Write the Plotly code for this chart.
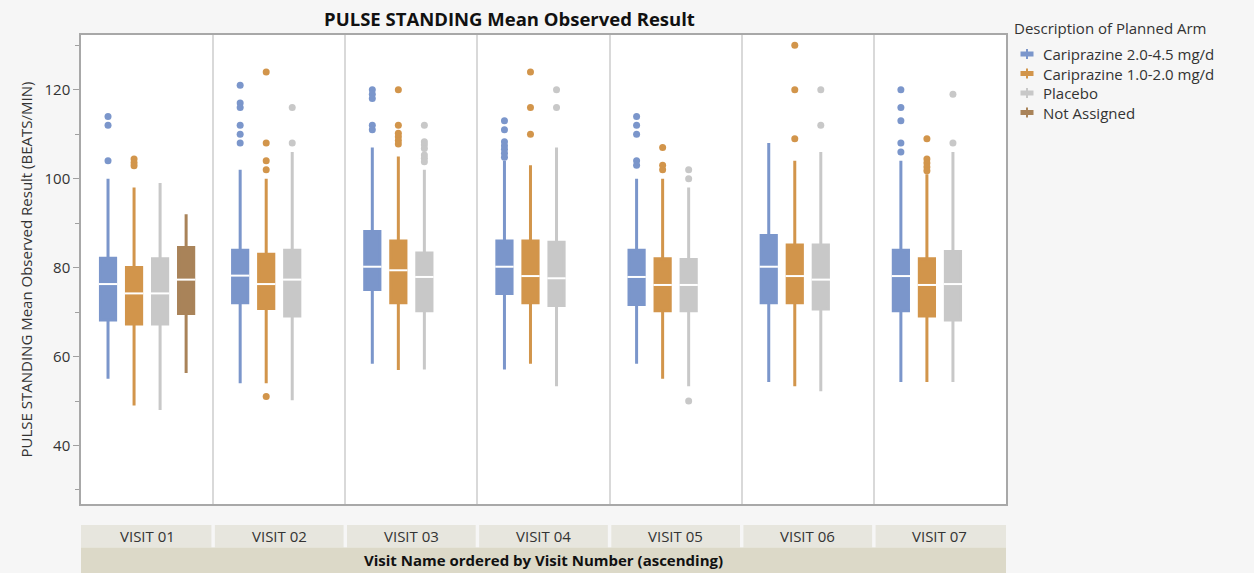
import plotly.graph_objects as go

# ---- data -------------------------------------------------------------
VISITS = ["VISIT 01", "VISIT 02", "VISIT 03", "VISIT 04", "VISIT 05", "VISIT 06", "VISIT 07"]
ARMS = ["Cariprazine 2.0-4.5 mg/d", "Cariprazine 1.0-2.0 mg/d", "Placebo", "Not Assigned"]
ARM_COLORS = ["#7b96cb", "#d2954b", "#c8c8c8", "#a98359"]

# Cariprazine 2.0-4.5 mg/d
hi_lower = [55, 54, 58.4, 57.1, 58.4, 54.3, 54.3]
hi_q1 = [68.2, 72.1, 75.1, 74.2, 71.7, 72.1, 70.3]
hi_median = [76.3, 78.2, 80.2, 80.2, 77.9, 80.2, 78.1]
hi_q3 = [82.1, 83.9, 88.1, 86.0, 83.9, 87.2, 83.9]
hi_upper = [100, 102, 107, 104, 100, 108, 104]
hi_outliers = [
    [114, 112, 104],
    [121, 117, 116, 112, 110, 108],
    [120, 119, 118, 112, 111],
    [113, 111, 108.3, 107.4, 106.6, 105.7, 104.8],
    [114, 112, 110, 104, 103],
    [],
    [120, 116, 113, 108, 106],
]

# Cariprazine 1.0-2.0 mg/d
mid_lower = [49, 54, 57, 58.4, 55, 53.3, 54.3]
mid_q1 = [67.3, 70.8, 72.1, 72.1, 70.3, 72.1, 69.1]
mid_median = [74.2, 76.3, 79.4, 78.1, 76.1, 78.1, 76.1]
mid_q3 = [80, 83, 86, 86, 82, 85.1, 82]
mid_upper = [98, 100, 105, 103, 100, 104, 101]
mid_outliers = [
    [104.4, 103.6, 102.9],
    [124, 108, 104, 102, 51],
    [120, 112, 110.2, 109.4, 108.6, 107.8],
    [124, 116, 110],
    [107, 103, 102],
    [130, 120, 109],
    [109, 104.4, 103.5, 102.6, 101.8],
]

# Placebo
pbo_lower = [48, 50.2, 57.1, 53.3, 53.3, 52.2, 54.3]
pbo_q1 = [67.3, 69.1, 70.3, 71.5, 70.3, 70.7, 68.2]
pbo_median = [74.2, 77.3, 77.9, 77.6, 76.1, 77.3, 76.3]
pbo_q3 = [82, 83.9, 83.3, 85.7, 81.8, 85.1, 83.6]
pbo_upper = [99, 106, 102, 107, 98, 106, 106]
pbo_outliers = [
    [],
    [116, 108],
    [112, 108.3, 107.6, 106.8, 105.3, 104.6, 103.8],
    [120, 116],
    [102, 100, 50],
    [120, 112],
    [119, 108],
]

# Not Assigned (only present at the first visit)
na_visits = ["VISIT 01"]
na_lower = [56.3]
na_q1 = [69.7]
na_median = [77.3]
na_q3 = [84.5]
na_upper = [92]
na_outliers = [[]]

Y_TICKS = [40, 60, 80, 100, 120]
Y_RANGE = [26.85, 132.3]

# ---- layout geometry ---------------------------------------------------
W, H = 1254, 573
ML, MR, MT, MB = 81, 248, 35, 69
PLOT_W = W - ML - MR
PLOT_H = H - MT - MB
SLOT = 0.197          # spacing between arm slots inside a visit
BOX_W = 0.115         # box width in x units
FONT = "Open Sans"
TXT = "#333333"


def py2paper(py):
    return (H - MB - py) / PLOT_H


def px2paper(px):
    return (px - ML) / PLOT_W


arm_data = [
    (VISITS, hi_lower, hi_q1, hi_median, hi_q3, hi_upper, hi_outliers),
    (VISITS, mid_lower, mid_q1, mid_median, mid_q3, mid_upper, mid_outliers),
    (VISITS, pbo_lower, pbo_q1, pbo_median, pbo_q3, pbo_upper, pbo_outliers),
    (na_visits, na_lower, na_q1, na_median, na_q3, na_upper, na_outliers),
]

fig = go.Figure()

for k, (name, color, d) in enumerate(zip(ARMS, ARM_COLORS, arm_data)):
    vis, lo, q1, med, q3, up, outl = d
    offset = (k - 1.5) * SLOT
    xs = [VISITS.index(v) + offset for v in vis]

    fig.add_trace(go.Box(
        name=name, x=xs, q1=q1, median=med, q3=q3,
        lowerfence=lo, upperfence=up,
        width=BOX_W, whiskerwidth=0, boxpoints=False,
        line=dict(color=color, width=3), fillcolor=color,
        showlegend=False, hoverinfo="skip",
    ))

    # white median bar across each box
    mx, my = [], []
    half = BOX_W / 2 + 0.012
    for x, m in zip(xs, med):
        mx += [x - half, x + half, None]
        my += [m, m, None]
    fig.add_trace(go.Scatter(
        x=mx, y=my, mode="lines", line=dict(color="white", width=2),
        showlegend=False, hoverinfo="skip",
    ))

    # outlying points
    ox, oy = [], []
    for x, pts in zip(xs, outl):
        ox += [x] * len(pts)
        oy += pts
    if ox:
        fig.add_trace(go.Scatter(
            x=ox, y=oy, mode="markers",
            marker=dict(color=color, size=7, line=dict(width=0)),
            showlegend=False, hoverinfo="skip",
        ))

shapes = []
annotations = []

# ---- legend: small box-plot glyph + label for each arm ---------------
annotations.append(dict(text="Description of Planned Arm", x=px2paper(1012),
                        y=py2paper(28), xref="paper", yref="paper",
                        xanchor="left", yanchor="middle", showarrow=False,
                        font=dict(family=FONT, size=15, color=TXT)))
for k, (name, color) in enumerate(zip(ARMS, ARM_COLORS)):
    cy = 54 + 19.5 * k
    shapes.append(dict(type="line", xref="paper", yref="paper",
                       x0=px2paper(1027), x1=px2paper(1027),
                       y0=py2paper(cy - 5), y1=py2paper(cy + 5),
                       line=dict(color=color, width=2)))
    shapes.append(dict(type="rect", xref="paper", yref="paper",
                       x0=px2paper(1020.5), x1=px2paper(1033.5),
                       y0=py2paper(cy - 2.5), y1=py2paper(cy + 2.5),
                       fillcolor=color, line=dict(width=0)))
    annotations.append(dict(text=name, x=px2paper(1041), y=py2paper(cy),
                            xref="paper", yref="paper", xanchor="left",
                            yanchor="middle", showarrow=False,
                            font=dict(family=FONT, size=15, color=TXT)))

# ---- category header below the plot -----------------------------------
gap = 0.013
cell_top, cell_bot, bar_bot = py2paper(525), py2paper(547.5), py2paper(573)
for i, v in enumerate(VISITS):
    x0 = i - 0.5 + (gap if i > 0 else 0)
    x1 = i + 0.5 - (gap if i < len(VISITS) - 1 else 0)
    shapes.append(dict(type="rect", xref="x", yref="paper", x0=x0, x1=x1,
                       y0=cell_bot, y1=cell_top, fillcolor="#e7e6de",
                       line=dict(width=0), layer="below"))
    annotations.append(dict(text=v, x=i, xref="x", y=(cell_top + cell_bot) / 2,
                            yref="paper", xanchor="center", yanchor="middle",
                            showarrow=False,
                            font=dict(family=FONT, size=15, color=TXT)))
shapes.append(dict(type="rect", xref="x", yref="paper", x0=-0.5, x1=6.5,
                   y0=bar_bot, y1=cell_bot, fillcolor="#dcd9c8",
                   line=dict(width=0), layer="below"))
annotations.append(dict(text="<b>Visit Name ordered by Visit Number (ascending)</b>",
                        x=3, xref="x", y=(cell_bot + bar_bot) / 2, yref="paper",
                        xanchor="center", yanchor="middle", showarrow=False,
                        font=dict(family=FONT, size=15, color="#111111")))

# y-axis title
annotations.append(dict(text="PULSE STANDING Mean Observed Result (BEATS/MIN)",
                        x=px2paper(25), xref="paper", y=0.5, yref="paper",
                        textangle=-90, showarrow=False, xanchor="center",
                        yanchor="middle",
                        font=dict(family=FONT, size=15, color=TXT)))

fig.update_layout(
    width=W, height=H,
    margin=dict(l=ML, r=MR, t=MT, b=MB),
    paper_bgcolor="#f6f6f6", plot_bgcolor="white",
    font=dict(family=FONT, size=14, color=TXT),
    title=dict(text="<b>PULSE STANDING Mean Observed Result</b>",
               x=px2paper(509.5), xref="paper", xanchor="center",
               y=1 - 20 / H, yref="container", yanchor="middle",
               font=dict(family=FONT, size=18.5, color="#111111")),
    showlegend=False,
    shapes=shapes, annotations=annotations,
    boxmode="overlay",
)

fig.update_xaxes(range=[-0.5, 6.5], tickvals=[i + 0.5 for i in range(6)],
                 showticklabels=False, ticks="", showgrid=True,
                 gridcolor="#d9d9d9", gridwidth=1.5, zeroline=False,
                 showline=True, mirror=True, linecolor="#a8a8a8", linewidth=1.5)
fig.update_yaxes(range=Y_RANGE, tickvals=Y_TICKS, ticks="outside", ticklen=6,
                 tickcolor="#a0a0a0", showgrid=False, zeroline=False,
                 minor=dict(dtick=10, tick0=0, ticks="outside", ticklen=4,
                            tickcolor="#a0a0a0", showgrid=False),
                 showline=True, mirror=True, linecolor="#a8a8a8", linewidth=1.5,
                 tickfont=dict(family=FONT, size=15, color=TXT))

fig.write_html("out.html")
